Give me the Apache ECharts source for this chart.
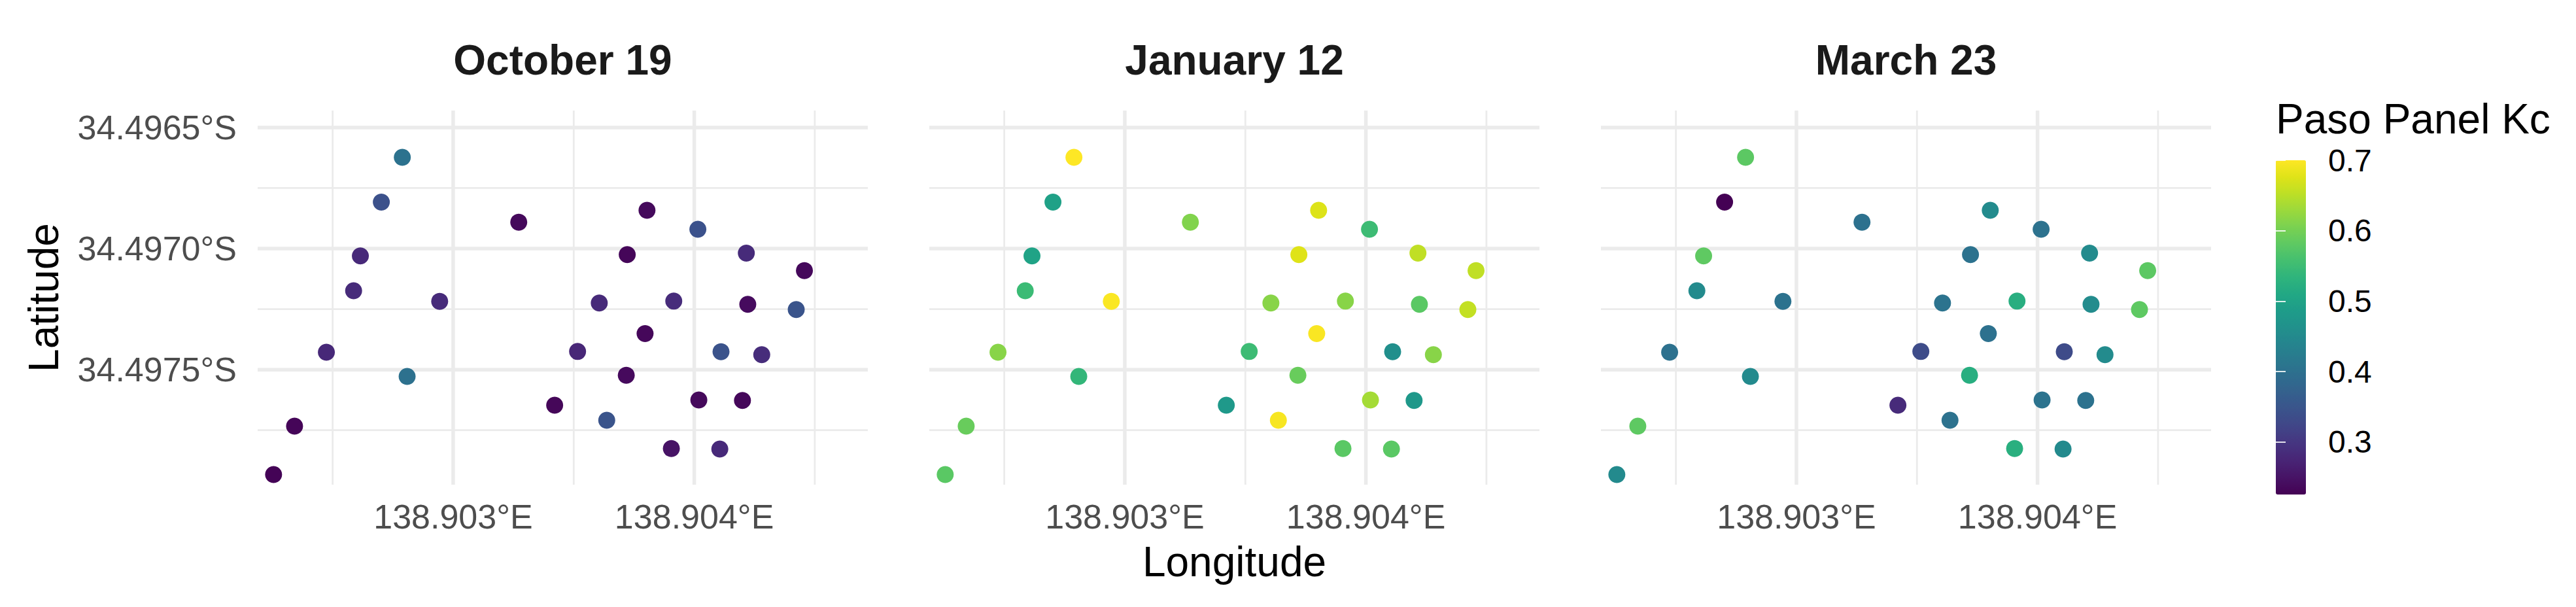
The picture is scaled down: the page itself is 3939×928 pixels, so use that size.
<!DOCTYPE html>
<html><head><meta charset="utf-8">
<script src="https://cdn.jsdelivr.net/npm/echarts@6/dist/echarts.min.js"></script>
<style>html,body{margin:0;padding:0;background:#fff}#c{width:3939px;height:928px}</style>
</head><body><div id="c"></div>
<script>
// ---- data ----
const panels = ['October 19', 'January 12', 'March 23'];
const lon = [138.902255, 138.902342, 138.902474, 138.902587, 138.902615, 138.902702, 138.902789, 138.902809, 138.902944, 138.903272,
             138.903421, 138.903516, 138.903606, 138.903637, 138.903718, 138.903722, 138.903796, 138.903804, 138.903905, 138.903915,
             138.904015, 138.904019, 138.904106, 138.904111, 138.904200, 138.904216, 138.904222, 138.904280, 138.904423, 138.904457];
const lat = [-34.497933, -34.497733, -34.497428, -34.497174, -34.497030, -34.496808, -34.496623, -34.497528, -34.497218, -34.496891,
             -34.497647, -34.497425, -34.497225, -34.497709, -34.497523, -34.497025, -34.497351, -34.496842, -34.497826, -34.497217,
             -34.496920, -34.497625, -34.497828, -34.497426, -34.497627, -34.497019, -34.497230, -34.497438, -34.497252, -34.497091];
const kcOct = [0.228, 0.231, 0.279, 0.283, 0.281, 0.342, 0.404, 0.401, 0.284, 0.236,
               0.233, 0.278, 0.282, 0.347, 0.238, 0.232, 0.234, 0.237, 0.249, 0.285,
               0.343, 0.236, 0.281, 0.346, 0.234, 0.283, 0.239, 0.286, 0.348, 0.235];
const kcJan = [0.578, 0.590, 0.615, 0.548, 0.500, 0.496, 0.700, 0.539, 0.698, 0.610,
               0.480, 0.550, 0.615, 0.695, 0.590, 0.676, 0.697, 0.675, 0.578, 0.615,
               0.550, 0.635, 0.578, 0.460, 0.477, 0.655, 0.578, 0.615, 0.657, 0.655];
const kcMar = [0.450, 0.581, 0.402, 0.452, 0.582, 0.2256, 0.580, 0.450, 0.404, 0.402,
               0.283, 0.334, 0.405, 0.403, 0.522, 0.404, 0.401, 0.452, 0.524, 0.523,
               0.403, 0.405, 0.450, 0.333, 0.404, 0.451, 0.453, 0.452, 0.581, 0.580];
const lonTicks = [138.903, 138.904];
const lonMinor = [138.9025, 138.9035, 138.9045];
const latTicks = [-34.4965, -34.4970, -34.4975];
const latMinor = [-34.49675, -34.49725, -34.49775];
const kcBreaks = [0.3, 0.4, 0.5, 0.6, 0.7];
const lonRange = [138.902189, 138.904720];
const latRange = [-34.497975, -34.496430];

// ---- layout / style ----
const FONT = "'Liberation Sans', Arial, Helvetica, sans-serif";
const L0 = 394, PSTEP = 1027, PW = 933, PT = 169, PH = 572;
const CB = {left: 3480, top: 245, width: 46, height: 511};
const GRID_C = '#EBEBEB';
const MAJOR_W = 5.5, MINOR_W = 2.8;
const viridis = ['#440154','#471365','#482475','#463480','#414487','#3B528B','#355F8D','#2F6C8E','#2A788E','#25848E',
                 '#21918C','#1E9C89','#22A884','#2FB47C','#44BF70','#5EC962','#7AD151','#9BD93C','#BDDF26','#DFE318','#FDE725'];

const kcAll = [kcOct, kcJan, kcMar];
const flat = kcAll.flat();
const vmin = Math.min(...flat), vmax = Math.max(...flat);

const chart = echarts.init(document.getElementById('c'), null, {renderer: 'svg', width: 3939, height: 928});

const grids = [], xAxes = [], yAxes = [], series = [], graphics = [], scatterIdx = [];
function gridLine(i, pts, w) {
  series.push({type: 'line', xAxisIndex: i, yAxisIndex: i, data: pts, symbol: 'none', silent: true, z: 1,
               clip: false, lineStyle: {color: GRID_C, width: w, cap: 'butt'}, emphasis: {disabled: true}});
}
panels.forEach((name, i) => {
  const left = L0 + i * PSTEP;
  grids.push({left: left, top: PT, width: PW, height: PH, containLabel: false});
  xAxes.push({
    gridIndex: i, type: 'value', min: lonRange[0], max: lonRange[1],
    axisLine: {show: false}, axisTick: {show: false}, splitLine: {show: false},
    axisLabel: {customValues: lonTicks, formatter: v => v.toFixed(3) + '°E',
                fontSize: 52, fontFamily: FONT, color: '#4D4D4D', margin: 23}
  });
  yAxes.push({
    gridIndex: i, type: 'value', min: latRange[0], max: latRange[1],
    axisLine: {show: false}, axisTick: {show: false}, splitLine: {show: false},
    axisLabel: {show: i === 0, customValues: latTicks, formatter: v => Math.abs(v).toFixed(4) + '°S',
                fontSize: 52, fontFamily: FONT, color: '#4D4D4D', margin: 32}
  });
  lonMinor.forEach(v => gridLine(i, [[v, latRange[0]], [v, latRange[1]]], MINOR_W));
  latMinor.forEach(v => gridLine(i, [[lonRange[0], v], [lonRange[1], v]], MINOR_W));
  lonTicks.forEach(v => gridLine(i, [[v, latRange[0]], [v, latRange[1]]], MAJOR_W));
  latTicks.forEach(v => gridLine(i, [[lonRange[0], v], [lonRange[1], v]], MAJOR_W));
  scatterIdx.push(series.length);
  series.push({
    type: 'scatter', name: name, xAxisIndex: i, yAxisIndex: i, z: 10, symbolSize: 26,
    itemStyle: {opacity: 1}, emphasis: {disabled: true},
    data: lon.map((x, j) => [x, lat[j], kcAll[i][j]])
  });
  graphics.push({type: 'text', x: left + PW / 2, y: 92, silent: true,
    style: {text: name, fontSize: 64, fontWeight: 'bold', fontFamily: FONT, fill: '#1A1A1A', align: 'center', verticalAlign: 'middle'}});
});

// colorbar axes
grids.push({left: CB.left, top: CB.top, width: CB.width, height: CB.height});
xAxes.push({gridIndex: 3, type: 'value', show: false, min: 0, max: 1});
yAxes.push({gridIndex: 3, type: 'value', position: 'right', min: vmin, max: vmax, z: 10,
  axisLine: {show: false}, splitLine: {show: false},
  axisTick: {show: true, inside: true, length: 15, customValues: kcBreaks, lineStyle: {color: 'rgba(255,255,255,0.85)', width: 2}},
  axisLabel: {customValues: kcBreaks, formatter: v => v.toFixed(1), fontSize: 48, fontFamily: FONT, color: '#000', margin: 34}});
yAxes.push({gridIndex: 3, type: 'value', position: 'left', min: vmin, max: vmax, z: 10,
  axisLine: {show: false}, splitLine: {show: false}, axisLabel: {show: false},
  axisTick: {show: true, inside: true, length: 15, customValues: kcBreaks, lineStyle: {color: 'rgba(255,255,255,0.85)', width: 2}}});

graphics.push({type: 'text', x: 67, y: 455, rotation: Math.PI / 2, silent: true,
  style: {text: 'Latitude', fontSize: 64, fontFamily: FONT, fill: '#000', align: 'center', verticalAlign: 'middle'}});
graphics.push({type: 'text', x: L0 + PSTEP + PW / 2, y: 859, silent: true,
  style: {text: 'Longitude', fontSize: 64, fontFamily: FONT, fill: '#000', align: 'center', verticalAlign: 'middle'}});
graphics.push({type: 'text', x: CB.left, y: 182, silent: true,
  style: {text: 'Paso Panel Kc', fontSize: 64, fontFamily: FONT, fill: '#000', align: 'left', verticalAlign: 'middle'}});

chart.setOption({
  animation: false,
  backgroundColor: '#fff',
  grid: grids, xAxis: xAxes, yAxis: yAxes,
  visualMap: {
    type: 'continuous', min: vmin, max: vmax, dimension: 2, seriesIndex: scatterIdx,
    calculable: false, hoverLink: false, realtime: false,
    left: CB.left, top: CB.top, itemWidth: CB.width, itemHeight: CB.height, padding: 0,
    text: null, showLabel: false, inRange: {color: viridis}
  },
  series: series,
  graphic: graphics
});
</script></body></html>
